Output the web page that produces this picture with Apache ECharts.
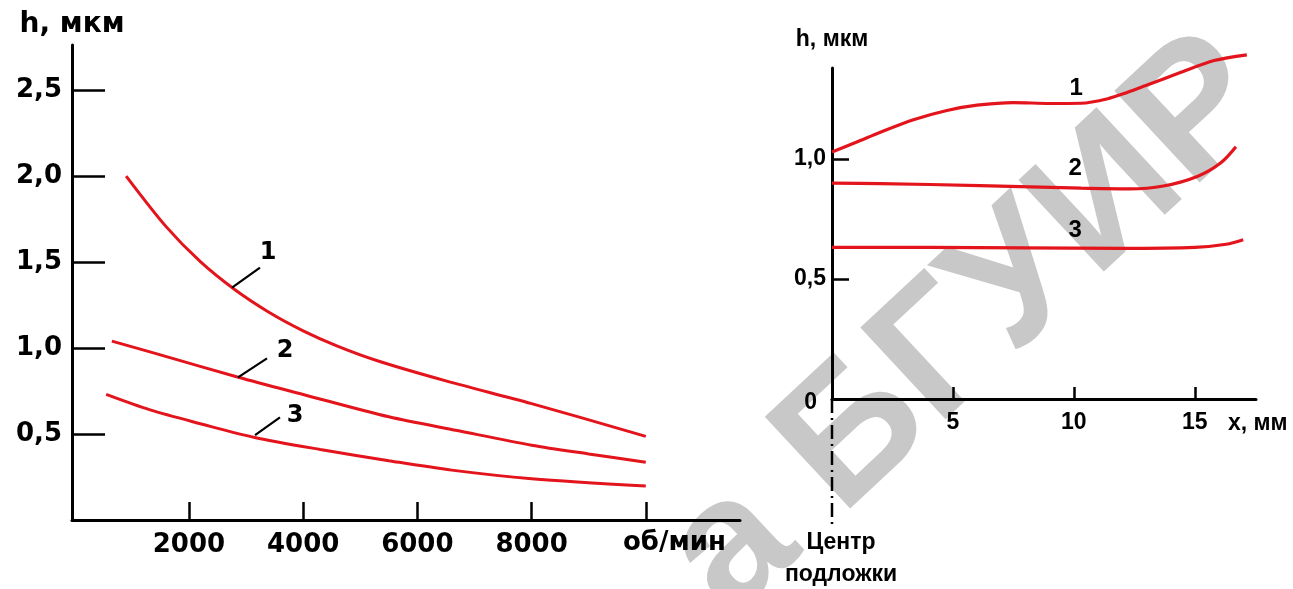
<!DOCTYPE html>
<html><head><meta charset="utf-8">
<script src="https://cdn.jsdelivr.net/npm/echarts@6/dist/echarts.min.js"></script>
<style>html,body{margin:0;padding:0;background:#fff;}#c{width:1293px;height:589px;}</style>
</head><body><div id="c"></div>
<script>
// ---------- Left chart: h (мкм) vs rotation speed (об/мин) ----------
const speedTicks = [2000, 4000, 6000, 8000, 10000];
const hTicksLeft = [0.5, 1.0, 1.5, 2.0, 2.5];
const speedCurve1 = [[900,2.00],[1600,1.706],[2200,1.502],[2800,1.34],[3400,1.208],[4000,1.10],[4600,1.011],[5300,0.926],[6500,0.809],[8000,0.677],[10000,0.486]];
const speedCurve2 = [[650,1.04],[1500,0.96],[2864,0.83],[4000,0.73],[5500,0.60],[6700,0.52],[8000,0.435],[9000,0.384],[10000,0.336]];
const speedCurve3 = [[550,0.73],[1320,0.64],[2200,0.56],[3150,0.48],[4300,0.41],[5500,0.345],[6600,0.29],[8000,0.24],[10000,0.197]];
const leftLeaders = [[[2754,1.351],[3244,1.467]],[[2859,0.829],[3367,0.94]],[[3157,0.493],[3594,0.597]]];
const leftLabelAnchors = [[3384,1.554],[3682,0.986],[3857,0.609]];
const curveNames = ['1','2','3'];

// ---------- Right chart: h (мкм) vs distance from substrate centre x (мм) ----------
const xTicksRight = [5, 10, 15];
const hTicksRight = [0, 0.5, 1.0];
const posCurve1 = [[0,1.03],[1,1.07],[2,1.112],[3.4,1.165],[4.75,1.203],[6,1.225],[7.5,1.236],[9,1.232],[10.3,1.233],[11.4,1.252],[12.2,1.278],[13,1.308],[14.4,1.361],[15.8,1.411],[17.15,1.435]];
const posCurve2 = [[0,0.90],[2,0.898],[6.1,0.89],[10.3,0.879],[12.3,0.876],[13.7,0.888],[15.1,0.928],[16.05,0.983],[16.7,1.052]];
const posCurve3 = [[0,0.632],[4,0.632],[8,0.630],[12,0.628],[15,0.632],[16.3,0.645],[17,0.664]];
const rightLabelAnchors = [[10.1,1.296],[10.05,0.9625],[10.05,0.705]];

const RED = '#e3141b';
const INK = '#000';
const fontL = 'DejaVu Sans';
const fontR = 'Liberation Sans';
const comma = v => (+v).toFixed(1).replace('.', ',');

const chart = echarts.init(document.getElementById('c'), null, {renderer: 'canvas'});

function curve(data, xi, w) {
  return {type:'line', xAxisIndex:xi, yAxisIndex:xi, data:data, smooth:0.3, clip:false,
    showSymbol:false, symbol:'none', lineStyle:{color:RED, width:w}, z:3, silent:true};
}
const series = [
  curve(speedCurve1,0,3), curve(speedCurve2,0,3), curve(speedCurve3,0,3),
  curve(posCurve1,1,3.2), curve(posCurve2,1,3.2), curve(posCurve3,1,3.2)
];
leftLeaders.forEach(seg => series.push({type:'line', xAxisIndex:0, yAxisIndex:0, data:seg, symbol:'none',
  lineStyle:{color:INK, width:2.2}, z:4, silent:true}));
function labelSeries(xi, anchors, fam) {
  return {type:'scatter', xAxisIndex:xi, yAxisIndex:xi, symbol:'circle', symbolSize:1, silent:true, z:5,
    itemStyle:{color:'rgba(0,0,0,0)'},
    data: anchors.map((p,i)=>({value:p, name:curveNames[i]})),
    label:{show:true, position:'inside', formatter:p=>p.name, color:INK, textBorderWidth:0, opacity:1,
      fontFamily:fam, fontWeight:'bold', fontSize:24}};
}
series.push(labelSeries(0, leftLabelAnchors, fontL));
series.push(labelSeries(1, rightLabelAnchors, fontR));

const axLine = {show:true, onZero:false, lineStyle:{color:INK, width:3}};

const option = {
  animation:false,
  backgroundColor:'#fff',
  grid:[
    {left:72, top:45, width:668, height:475},
    {left:832, top:68, width:424, height:331}
  ],
  xAxis:[
    {type:'value', gridIndex:0, min:-48, max:11650, splitLine:{show:false},
      axisLine:axLine,
      axisTick:{show:true, inside:true, length:18, lineStyle:{color:INK, width:2.5}, customValues:speedTicks},
      axisLabel:{show:true, customValues:speedTicks.slice(0,4), margin:12, color:INK, fontFamily:fontL, fontWeight:'bold', fontSize:26,
        formatter:v=>String(v)},
      name:'об/мин', nameLocation:'end', nameGap:-117,
      nameTextStyle:{color:INK, fontFamily:fontL, fontWeight:'bold', fontSize:26, verticalAlign:'top', align:'left', lineHeight:46}
    },
    {type:'value', gridIndex:1, min:0, max:17.53, splitLine:{show:false},
      axisLine:axLine,
      axisTick:{show:true, inside:true, length:12, lineStyle:{color:INK, width:2.5}, customValues:xTicksRight},
      axisLabel:{show:true, customValues:xTicksRight, margin:12, color:INK, fontFamily:fontR, fontWeight:'bold', fontSize:23},
      name:'x, мм', nameLocation:'end', nameGap:-28,
      nameTextStyle:{color:INK, fontFamily:fontR, fontWeight:'bold', fontSize:23, verticalAlign:'top', align:'left', lineHeight:50}
    }
  ],
  yAxis:[
    {type:'value', gridIndex:0, min:0, max:2.762, splitLine:{show:false},
      axisLine:axLine,
      axisTick:{show:true, inside:true, length:33, lineStyle:{color:INK, width:2.5}, customValues:hTicksLeft},
      axisLabel:{show:true, customValues:hTicksLeft, margin:10, color:INK, fontFamily:fontL, fontWeight:'bold', fontSize:26, formatter:comma},
      name:'h, мкм', nameLocation:'end', nameGap:6,
      nameTextStyle:{color:INK, fontFamily:fontL, fontWeight:'bold', fontSize:28}
    },
    {type:'value', gridIndex:1, min:0, max:1.38, splitLine:{show:false},
      axisLine:axLine,
      axisTick:{show:true, inside:true, length:17, lineStyle:{color:INK, width:2.5}, customValues:hTicksRight.slice(1)},
      axisLabel:{show:true, customValues:hTicksRight, margin:6, color:INK, fontFamily:fontR, fontWeight:'bold', fontSize:23,
        formatter:v=> v===0 ? '{z|0}' : comma(v),
        rich:{z:{fontFamily:fontR, fontWeight:'bold', fontSize:23, color:INK, padding:[8,9,0,0]}}},
      name:'h, мкм', nameLocation:'end', nameGap:17,
      nameTextStyle:{color:INK, fontFamily:fontR, fontWeight:'bold', fontSize:23}
    }
  ],
  series:series
};
chart.setOption(option);

// annotations tied to the right chart's origin
const p0 = chart.convertToPixel({gridIndex:1}, [0, 0]);
const pLow = chart.convertToPixel({gridIndex:1}, [0, -0.525]);
chart.setOption({
  graphic:[
    {type:'text', z:-10, silent:true, x:758, y:650, rotation:43*Math.PI/180,
      style:{text:'а БГУИР', fill:'#c8c8c8', font:'bold 182px "Liberation Sans"', textAlign:'left', textVerticalAlign:'bottom'}},
    {type:'line', silent:true, z:10, shape:{x1:p0[0], y1:p0[1], x2:pLow[0], y2:pLow[1]},
      style:{stroke:INK, lineWidth:2.5, lineDash:[14,5,2,5]}},
    {type:'text', silent:true, z:10, x:p0[0]+9, y:p0[1]+128,
      style:{text:'Центр\nподложки', fill:INK, font:'bold 23px "Liberation Sans"', textAlign:'center', textVerticalAlign:'top', lineHeight:32}}
  ]
});
</script>
</body></html>
